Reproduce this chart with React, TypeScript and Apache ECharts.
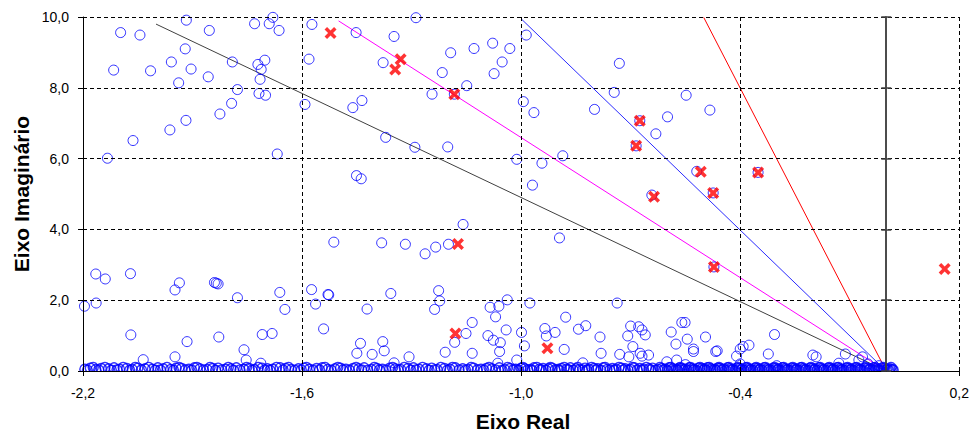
import React, { useEffect, useRef } from "react";
import * as echarts from "echarts";

// Axis ticks
const xTicks = { min: -2.2, max: 0.2, interval: 0.6 };
const yTicks = { min: 0, max: 10, interval: 2 };

// Damping-ratio rays (start at origin, end point)
const rayBlack: number[][] = [[0, 0], [-2.0, 9.8]];
const rayMagenta: number[][] = [[0, 0], [-1.5, 9.89]];
const rayBlue: number[][] = [[0, 0], [-1.0, 9.95]];
const rayRed: number[][] = [[0, 0], [-0.5, 9.99]];

// Poles (blue hollow circles), scattered
const polesUpper: number[][] = [
  [-2.097, 9.56], [-2.044, 9.49], [-2.116, 8.5], [-2.015, 8.48], [-1.958, 8.73], [-1.938, 8.14],
  [-1.92, 9.1], [-1.904, 8.53], [-1.917, 9.91], [-1.854, 9.62], [-1.857, 8.31], [-1.791, 8.73],
  [-1.777, 7.95], [-1.793, 7.56], [-1.825, 7.26], [-1.918, 7.08], [-1.962, 6.81], [-2.063, 6.51],
  [-2.133, 6.01], [-1.73, 9.81], [-1.69, 9.81], [-1.663, 9.62], [-1.68, 9.99], [-1.721, 8.66],
  [-1.702, 8.78], [-1.712, 8.52], [-1.715, 8.24], [-1.718, 7.84], [-1.7, 7.79], [-1.668, 6.13],
  [-1.592, 7.53], [-1.581, 8.81], [-1.573, 9.79],
  [-1.452, 9.56], [-1.348, 9.45], [-1.288, 9.98], [-1.378, 8.71], [-1.216, 8.43], [-1.193, 8.99],
  [-1.129, 9.11], [-1.078, 9.26], [-1.031, 9.11], [-1.052, 8.73], [-1.074, 8.4], [-1.149, 8.06],
  [-1.244, 7.82], [-1.183, 7.82], [-0.986, 9.49], [-0.994, 7.61], [-0.965, 7.3], [-1.461, 7.44],
  [-1.436, 7.64], [-1.371, 6.6], [-1.291, 6.32], [-1.201, 6.33], [-1.012, 5.98], [-0.943, 5.87],
  [-0.886, 6.08], [-0.969, 5.25], [-1.451, 5.52], [-1.438, 5.43], [-0.731, 8.69], [-0.745, 7.87],
  [-0.799, 7.39], [-0.548, 7.79], [-0.483, 7.37], [-0.599, 7.18], [-0.631, 6.7], [-0.675, 7.07],
  [-0.685, 6.36], [-0.519, 5.64], [-0.351, 5.61], [-0.474, 5.03], [-0.642, 4.97], [-0.472, 2.94],
];
const polesMiddle: number[][] = [
  [-2.165, 2.74], [-2.139, 2.6], [-2.07, 2.75], [-2.164, 1.92], [-2.196, 1.83], [-2.069, 1.02],
  [-1.948, 2.29], [-1.936, 2.49], [-1.84, 2.5], [-1.835, 2.48], [-1.83, 2.46], [-1.777, 2.07],
  [-1.661, 2.22], [-1.647, 1.74], [-1.915, 0.83], [-1.828, 0.96], [-1.709, 1.03], [-1.682, 1.06],
  [-1.759, 0.6], [-1.753, 0.31], [-2.035, 0.32], [-1.948, 0.4], [-1.713, 0.22], [-1.574, 2.3],
  [-1.563, 1.89], [-1.541, 1.19], [-1.529, 2.16],
  [-1.159, 4.14], [-0.895, 3.76], [-1.513, 3.64], [-1.382, 3.62], [-1.317, 3.58], [-1.263, 3.31],
  [-1.234, 3.5], [-1.199, 3.58], [-1.527, 2.15], [-1.357, 2.19], [-1.226, 2.27], [-1.223, 1.98],
  [-1.237, 1.74], [-1.422, 1.75], [-1.085, 1.8], [-1.061, 1.83], [-1.038, 2.01], [-1.07, 1.53],
  [-0.976, 1.92], [-0.737, 1.92], [-1.134, 1.37], [-1.151, 1.06], [-1.182, 0.81], [-1.208, 0.53],
  [-1.134, 0.5], [-1.091, 1.0], [-1.076, 0.87], [-1.057, 0.8], [-1.041, 1.16], [-1.059, 0.55],
  [-0.999, 1.09], [-0.991, 0.71], [-1.012, 0.31], [-1.064, 0.22], [-1.44, 0.78], [-1.45, 0.5],
  [-1.379, 0.83], [-1.375, 0.57], [-1.408, 0.47], [-1.348, 0.23], [-1.307, 0.4], [-0.935, 1.2],
  [-0.931, 0.99], [-0.907, 1.09], [-0.882, 0.61], [-0.878, 1.52], [-0.843, 1.18], [-0.823, 1.28],
  [-0.784, 0.96], [-0.781, 0.5], [-0.831, 0.23], [-0.73, 0.47], [-0.7, 1.27], [-0.708, 0.99],
  [-0.669, 1.16], [-0.66, 1.02], [-0.678, 1.25], [-0.694, 0.69], [-0.674, 0.5], [-0.705, 0.4],
  [-0.56, 1.37], [-0.551, 1.37], [-0.589, 1.1], [-0.576, 0.76], [-0.545, 0.9], [-0.528, 0.62],
  [-0.495, 0.96], [-0.463, 0.57], [-0.4, 0.62], [-0.392, 0.69], [-0.376, 0.73], [-0.41, 0.42],
  [-0.323, 0.48], [-0.306, 1.03], [-0.201, 0.45], [-0.192, 0.4], [-0.112, 0.48], [-0.065, 0.4],
  [-0.651, 0.45], [-0.669, 0.42], [-0.528, 0.55], [-0.467, 0.55], [-0.601, 0.26], [-0.574, 0.31],
  [-0.13, 0.22], [-0.075, 0.31], [-0.55, 0.18], [-0.4, 0.2], [-0.3, 0.15], [-0.05, 0.2], [-0.02, 0.15],
];
// Poles crowded along the real axis
const polesBand: number[][] = [
  [-2.195, 0.05], [-2.18, 0.08], [-2.165, 0.04], [-2.15, 0.07], [-2.13, 0.06], [-2.115, 0.09],
  [-2.1, 0.05], [-2.08, 0.07], [-2.065, 0.04], [-2.05, 0.08], [-2.03, 0.06], [-2.01, 0.05],
  [-1.995, 0.09], [-1.98, 0.06], [-1.96, 0.04], [-1.945, 0.08], [-1.93, 0.07], [-1.91, 0.05],
  [-1.895, 0.09], [-1.88, 0.06], [-1.86, 0.04], [-1.845, 0.07], [-1.83, 0.08], [-1.81, 0.05],
  [-1.795, 0.06], [-1.78, 0.09], [-1.76, 0.05], [-1.745, 0.07], [-1.73, 0.04], [-1.71, 0.08],
  [-1.695, 0.06], [-1.68, 0.05], [-1.66, 0.09], [-1.645, 0.07], [-1.63, 0.04], [-1.61, 0.06],
  [-1.595, 0.08], [-1.58, 0.05], [-1.56, 0.07], [-1.545, 0.09], [-1.53, 0.04], [-1.51, 0.06],
  [-1.495, 0.08], [-1.48, 0.05], [-1.46, 0.07], [-1.445, 0.06], [-1.43, 0.09], [-1.41, 0.04],
  [-1.395, 0.07], [-1.38, 0.05], [-1.36, 0.08], [-1.345, 0.06], [-1.33, 0.04], [-1.31, 0.07],
  [-1.295, 0.09], [-1.28, 0.05], [-1.26, 0.06], [-1.245, 0.08], [-1.23, 0.04], [-1.21, 0.07],
  [-1.195, 0.05], [-1.18, 0.09], [-1.16, 0.06], [-1.145, 0.04], [-1.13, 0.08], [-1.11, 0.05],
  [-1.095, 0.07], [-1.08, 0.06], [-1.06, 0.09], [-1.045, 0.04], [-1.03, 0.07], [-1.015, 0.05],
  [-1.0, 0.08], [-0.99, 0.06], [-0.975, 0.04], [-0.965, 0.09], [-0.95, 0.05], [-0.94, 0.07],
  [-0.925, 0.06], [-0.915, 0.08], [-0.9, 0.04], [-0.89, 0.07], [-0.875, 0.05], [-0.865, 0.09],
  [-0.85, 0.06], [-0.84, 0.04], [-0.825, 0.08], [-0.815, 0.05], [-0.8, 0.07], [-0.79, 0.06],
  [-0.775, 0.09], [-0.765, 0.04], [-0.75, 0.07], [-0.74, 0.05], [-0.725, 0.08], [-0.715, 0.06],
  [-0.7, 0.04], [-0.69, 0.09], [-0.675, 0.07], [-0.665, 0.05], [-0.65, 0.06], [-0.64, 0.08],
  [-0.625, 0.04], [-0.615, 0.07], [-0.605, 0.05], [-0.595, 0.09], [-0.585, 0.06], [-0.575, 0.04],
  [-0.568, 0.08], [-0.56, 0.07], [-0.55, 0.05], [-0.54, 0.09], [-0.532, 0.06], [-0.525, 0.04],
  [-0.515, 0.08], [-0.505, 0.07], [-0.497, 0.05], [-0.49, 0.09], [-0.48, 0.06], [-0.47, 0.04],
  [-0.462, 0.08], [-0.455, 0.07], [-0.445, 0.05], [-0.435, 0.09], [-0.428, 0.06], [-0.42, 0.04],
  [-0.41, 0.08], [-0.402, 0.07], [-0.395, 0.05], [-0.385, 0.09], [-0.377, 0.06], [-0.37, 0.04],
  [-0.36, 0.08], [-0.352, 0.07], [-0.345, 0.05], [-0.335, 0.09], [-0.327, 0.06], [-0.32, 0.04],
  [-0.31, 0.08], [-0.302, 0.07], [-0.295, 0.05], [-0.285, 0.09], [-0.277, 0.06], [-0.27, 0.04],
  [-0.26, 0.08], [-0.252, 0.07], [-0.245, 0.05], [-0.235, 0.09], [-0.227, 0.06], [-0.22, 0.04],
  [-0.21, 0.08], [-0.202, 0.07], [-0.195, 0.05], [-0.185, 0.09], [-0.177, 0.06], [-0.17, 0.04],
  [-0.16, 0.08], [-0.152, 0.07], [-0.145, 0.05], [-0.135, 0.09], [-0.127, 0.06], [-0.12, 0.04],
  [-0.11, 0.08], [-0.102, 0.07], [-0.095, 0.05], [-0.085, 0.09], [-0.077, 0.06], [-0.07, 0.04],
  [-0.06, 0.08], [-0.052, 0.07], [-0.045, 0.05], [-0.035, 0.09], [-0.027, 0.06], [-0.02, 0.04],
  [-0.012, 0.08], [-0.005, 0.07], [0.003, 0.05], [0.01, 0.06], [0.016, 0.04],
];
const polesBand2: number[][] = [
  [-2.188, 0.02], [-2.172, 0.1], [-2.157, 0.03], [-2.14, 0.1], [-2.122, 0.02], [-2.107, 0.03],
  [-2.09, 0.1], [-2.072, 0.02], [-2.057, 0.1], [-2.04, 0.03], [-2.02, 0.1], [-2.002, 0.02],
  [-1.988, 0.03], [-1.97, 0.1], [-1.952, 0.02], [-1.937, 0.1], [-1.92, 0.03], [-1.902, 0.02],
  [-1.888, 0.1], [-1.87, 0.03], [-1.852, 0.1], [-1.837, 0.02], [-1.82, 0.03], [-1.802, 0.1],
  [-1.788, 0.02], [-1.77, 0.03], [-1.752, 0.1], [-1.737, 0.02], [-1.72, 0.1], [-1.702, 0.03],
  [-1.688, 0.02], [-1.67, 0.1], [-1.652, 0.03], [-1.637, 0.1], [-1.62, 0.02], [-1.602, 0.03],
  [-1.588, 0.1], [-1.57, 0.02], [-1.552, 0.03], [-1.537, 0.1], [-1.52, 0.02], [-1.502, 0.1],
  [-1.488, 0.03], [-1.47, 0.02], [-1.452, 0.1], [-1.437, 0.03], [-1.42, 0.02], [-1.402, 0.1],
  [-1.388, 0.03], [-1.37, 0.02], [-1.352, 0.1], [-1.337, 0.03], [-1.32, 0.1], [-1.302, 0.02],
  [-1.288, 0.03], [-1.27, 0.1], [-1.252, 0.02], [-1.237, 0.03], [-1.22, 0.1], [-1.202, 0.02],
  [-1.188, 0.1], [-1.17, 0.03], [-1.152, 0.02], [-1.137, 0.1], [-1.12, 0.03], [-1.102, 0.02],
  [-1.088, 0.1], [-1.07, 0.03], [-1.052, 0.02], [-1.037, 0.1], [-1.022, 0.03], [-1.007, 0.02],
  [-0.995, 0.1], [-0.982, 0.03], [-0.97, 0.02], [-0.957, 0.1], [-0.945, 0.03], [-0.932, 0.02],
  [-0.92, 0.1], [-0.907, 0.03], [-0.895, 0.02], [-0.882, 0.1], [-0.87, 0.03], [-0.857, 0.02],
  [-0.845, 0.1], [-0.832, 0.03], [-0.82, 0.02], [-0.807, 0.1], [-0.795, 0.03], [-0.782, 0.02],
  [-0.77, 0.1], [-0.757, 0.03], [-0.745, 0.02], [-0.732, 0.1], [-0.72, 0.03], [-0.707, 0.02],
  [-0.695, 0.1], [-0.682, 0.03], [-0.67, 0.02], [-0.657, 0.1], [-0.645, 0.03], [-0.632, 0.02],
  [-0.62, 0.1], [-0.61, 0.03], [-0.6, 0.02], [-0.59, 0.1], [-0.58, 0.03], [-0.572, 0.02],
  [-0.564, 0.1], [-0.555, 0.03], [-0.545, 0.02], [-0.536, 0.1], [-0.528, 0.03], [-0.52, 0.02],
  [-0.51, 0.1], [-0.501, 0.03], [-0.493, 0.02], [-0.485, 0.1], [-0.475, 0.03], [-0.466, 0.02],
  [-0.458, 0.1], [-0.45, 0.03], [-0.44, 0.02], [-0.431, 0.1], [-0.424, 0.03], [-0.415, 0.02],
  [-0.406, 0.1], [-0.398, 0.03], [-0.39, 0.02], [-0.381, 0.1], [-0.373, 0.03], [-0.365, 0.02],
  [-0.356, 0.1], [-0.348, 0.03], [-0.34, 0.02], [-0.331, 0.1], [-0.323, 0.03], [-0.315, 0.02],
  [-0.306, 0.1], [-0.298, 0.03], [-0.29, 0.02], [-0.281, 0.1], [-0.273, 0.03], [-0.265, 0.02],
  [-0.256, 0.1], [-0.248, 0.03], [-0.24, 0.02], [-0.231, 0.1], [-0.223, 0.03], [-0.215, 0.02],
  [-0.206, 0.1], [-0.198, 0.03], [-0.19, 0.02], [-0.181, 0.1], [-0.173, 0.03], [-0.165, 0.02],
  [-0.156, 0.1], [-0.148, 0.03], [-0.14, 0.02], [-0.131, 0.1], [-0.123, 0.03], [-0.115, 0.02],
  [-0.106, 0.1], [-0.098, 0.03], [-0.09, 0.02], [-0.081, 0.1], [-0.073, 0.03], [-0.065, 0.02],
  [-0.056, 0.1], [-0.048, 0.03], [-0.04, 0.02], [-0.031, 0.1], [-0.023, 0.03], [-0.016, 0.02],
  [-0.008, 0.1], [0.0, 0.03], [0.007, 0.02], [0.013, 0.1], [0.019, 0.03],
];

// Closed-loop poles (red crosses)
const polesRed: number[][] = [
  [-1.522, 9.55], [-1.33, 8.81], [-1.345, 8.52], [-1.183, 7.82], [-0.675, 7.07], [-0.685, 6.36],
  [-0.508, 5.63], [-0.351, 5.61], [-0.474, 5.03], [-0.636, 4.92], [-0.472, 2.94], [0.16, 2.88],
  [-1.173, 3.59], [-1.18, 1.06], [-0.928, 0.64],
];

const FONT = 'Arial, "Liberation Sans", sans-serif';
const fmt = (v: number) => v.toFixed(1).replace(".", ",");
const CROSS =
  "path://M0,2.5 L2.5,0 L6,3.5 L9.5,0 L12,2.5 L8.5,6 L12,9.5 L9.5,12 L6,8.5 L2.5,12 L0,9.5 L3.5,6 Z";

export default function App() {
  const ref = useRef<HTMLDivElement>(null);
  useEffect(() => {
    if (!ref.current) return;
    const chart = echarts.init(ref.current, null, { renderer: "svg" });
    const dashed = { show: true, lineStyle: { color: "#000", width: 1, type: [4, 3] as number[] } };
    const zeroAxis = (inside: boolean) => ({
      type: "value",
      position: "left",
      min: yTicks.min,
      max: yTicks.max,
      interval: yTicks.interval,
      z: 10,
      axisLine: { show: true, onZero: true, onZeroAxisIndex: 0, lineStyle: { color: "#404040", width: 1.5 } },
      axisTick: { show: true, inside, length: 5, lineStyle: { color: "#404040", width: 1.5 } },
      axisLabel: { show: false },
      splitLine: { show: false },
    });
    const lineSeries = (data: number[][], color: string, w = 1) => ({
      type: "line",
      data,
      showSymbol: false,
      symbol: "none",
      lineStyle: { color, width: w },
      z: 2,
    });
    const circleStyle = { color: "rgba(0,0,0,0)", borderColor: "#0000FF", borderWidth: 1 };
    chart.setOption({
      animation: false,
      backgroundColor: "#fff",
      grid: { left: 83, right: 8, top: 17, bottom: 61, containLabel: false },
      xAxis: {
        type: "value",
        min: xTicks.min,
        max: xTicks.max,
        interval: xTicks.interval,
        z: 10,
        axisLine: { show: true, onZero: false, lineStyle: { color: "#000", width: 1 } },
        axisTick: { show: true, length: 5, lineStyle: { color: "#000" } },
        axisLabel: { formatter: fmt, color: "#000", fontSize: 14, fontFamily: FONT, margin: 15 },
        splitLine: dashed,
      },
      yAxis: [
        {
          type: "value",
          position: "left",
          min: yTicks.min,
          max: yTicks.max,
          interval: yTicks.interval,
          z: 10,
          axisLine: { show: true, onZero: false, lineStyle: { color: "#000", width: 1 } },
          axisTick: { show: true, length: 5, lineStyle: { color: "#000" } },
          axisLabel: { formatter: fmt, color: "#000", fontSize: 14, fontFamily: FONT, margin: 14 },
          splitLine: dashed,
        },
        zeroAxis(false),
        zeroAxis(true),
      ],
      series: [
        lineSeries(rayBlack, "#404040"),
        lineSeries(rayMagenta, "#FF00FF"),
        lineSeries(rayBlue, "#2B2BFF"),
        lineSeries(rayRed, "#FF0000"),
        {
          type: "scatter",
          data: [...polesBand, ...polesBand2],
          symbol: "circle",
          symbolSize: 10,
          itemStyle: { ...circleStyle, borderWidth: 1.4 },
          clip: true,
          z: 3,
        },
        {
          type: "scatter",
          data: [...polesMiddle, ...polesUpper],
          symbol: "circle",
          symbolSize: 10,
          itemStyle: circleStyle,
          clip: true,
          z: 3,
        },
        {
          type: "scatter",
          data: polesRed,
          symbol: CROSS,
          symbolSize: 12,
          itemStyle: { color: "#FF0000" },
          clip: false,
          z: 4,
        },
      ],
      graphic: [
        {
          type: "rect",
          z: 6,
          silent: true,
          shape: { x: 60, y: 371.5, width: 912, height: 9 },
          style: { fill: "#fff" },
        },
        {
          type: "text",
          x: 523,
          y: 421,
          style: { text: "Eixo Real", font: `bold 21px ${FONT}`, align: "center", verticalAlign: "middle", fill: "#000" },
        },
        {
          type: "text",
          x: 21,
          y: 194,
          rotation: Math.PI / 2,
          style: { text: "Eixo Imaginário", font: `bold 21px ${FONT}`, align: "center", verticalAlign: "middle", fill: "#000" },
        },
      ],
    });
    return () => chart.dispose();
  }, []);
  return <div ref={ref} style={{ position: "fixed", left: 0, top: 0, width: 972, height: 432 }} />;
}
